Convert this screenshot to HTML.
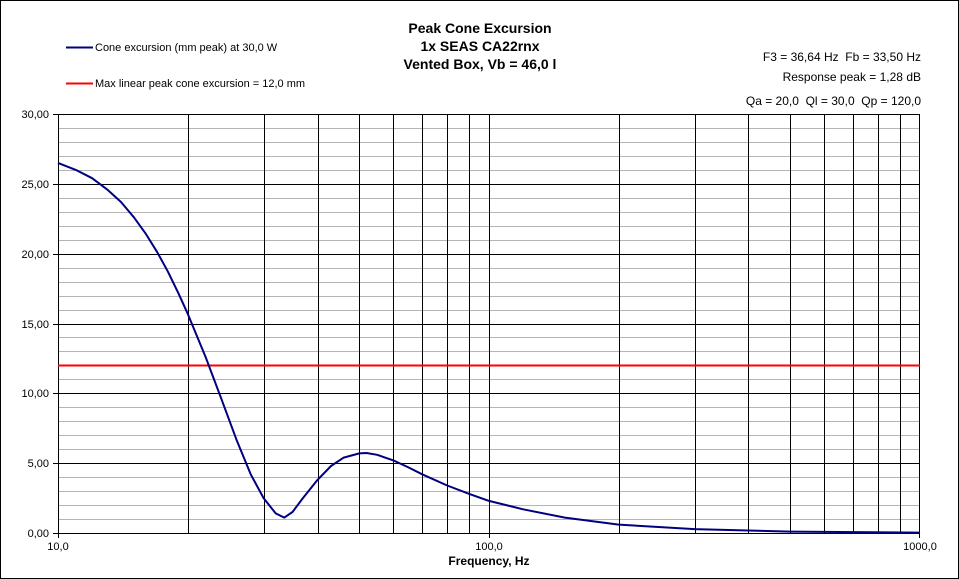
<!DOCTYPE html><html><head><style>body{margin:0;background:#fff}svg{display:block;font-family:"Liberation Sans",Arial,sans-serif}text{white-space:pre}</style></head><body>
<svg width="959" height="579" viewBox="0 0 959 579">
<rect x="0.5" y="0.5" width="958" height="578" fill="#fff" stroke="#000"/>
<g stroke="#b4b4b4" stroke-width="1" fill="none">
<path d="M58 128.5H920M58 142.5H920M58 156.5H920M58 170.5H920M58 198.5H920M58 212.5H920M58 226.5H920M58 240.5H920M58 268.5H920M58 282.5H920M58 296.5H920M58 310.5H920M58 337.5H920M58 351.5H920M58 365.5H920M58 379.5H920M58 407.5H920M58 421.5H920M58 435.5H920M58 449.5H920M58 477.5H920M58 491.5H920M58 505.5H920M58 519.5H920"/>
</g>
<g stroke="#000" stroke-width="1" fill="none">
<path d="M58 114.5H920M58 184.5H920M58 254.5H920M58 324.5H920M58 393.5H920M58 463.5H920"/>
<path d="M188.5 114V533M264.5 114V533M318.5 114V533M359.5 114V533M393.5 114V533M422.5 114V533M447.5 114V533M469.5 114V533M489.5 114V533M619.5 114V533M695.5 114V533M748.5 114V533M790.5 114V533M824.5 114V533M853.5 114V533M878.5 114V533M900.5 114V533M919.5 114V533"/>
<path d="M58.5 114V533.5H920"/>
<path d="M53 114.5H58M53 184.5H58M53 254.5H58M53 324.5H58M53 393.5H58M53 463.5H58M53 533.5H58M58.5 533V538M489.5 533V538M919.5 533V538"/>
</g>
<line x1="58" y1="365.5" x2="920" y2="365.5" stroke="#f00" stroke-width="2"/>
<polyline fill="none" stroke="#000080" stroke-width="2" stroke-linejoin="round" points="58,162.9 75.8,169.9 92.1,178.2 107.1,189.4 121,202 133.9,217.3 146,234.1 157.3,252.3 168,271.8 178.2,292.8 187.7,313.7 205.6,357 221.9,400.3 236.9,440.8 250.7,474.3 263.6,498.1 275.7,513.4 284.3,517.6 292.5,512 302.9,498.1 317.5,479.9 331,466 343.7,457.6 359.3,453.4 366.6,453 377.1,454.8 393.4,460.4 408.4,467.4 422.2,474.3 447.2,485.5 469.3,493.9 489,500.9 523.1,509.3 564.9,517.6 618.7,524.6 694.6,529.1 790.3,531.6 920,532.6"/>
<g font-size="11" fill="#000" text-anchor="end">
<text x="49" y="118">30,00</text><text x="49" y="188">25,00</text><text x="49" y="258">20,00</text><text x="49" y="328">15,00</text><text x="49" y="397">10,00</text><text x="49" y="467">5,00</text><text x="49" y="537">0,00</text>
</g>
<g font-size="11" text-anchor="middle"><text x="58" y="550">10,0</text><text x="489" y="550">100,0</text><text x="920" y="550">1000,0</text></g>
<text x="489" y="565" font-size="12" font-weight="bold" text-anchor="middle">Frequency, Hz</text>
<g font-size="14" font-weight="bold" text-anchor="middle"><text x="480" y="33">Peak Cone Excursion</text><text x="480" y="51">1x SEAS CA22rnx</text><text x="480" y="69">Vented Box, Vb = 46,0 l</text></g>
<line x1="66" y1="47.5" x2="93" y2="47.5" stroke="#000080" stroke-width="2"/>
<line x1="66" y1="83.5" x2="93" y2="83.5" stroke="#f00" stroke-width="2"/>
<g font-size="11"><text x="95" y="51">Cone excursion (mm peak) at 30,0 W</text><text x="95" y="87">Max linear peak cone excursion = 12,0 mm</text></g>
<g font-size="12" text-anchor="end"><text x="921" y="61">F3 = 36,64 Hz  Fb = 33,50 Hz</text><text x="921" y="81">Response peak = 1,28 dB</text><text x="921" y="105">Qa = 20,0  Ql = 30,0  Qp = 120,0</text></g>
</svg></body></html>
